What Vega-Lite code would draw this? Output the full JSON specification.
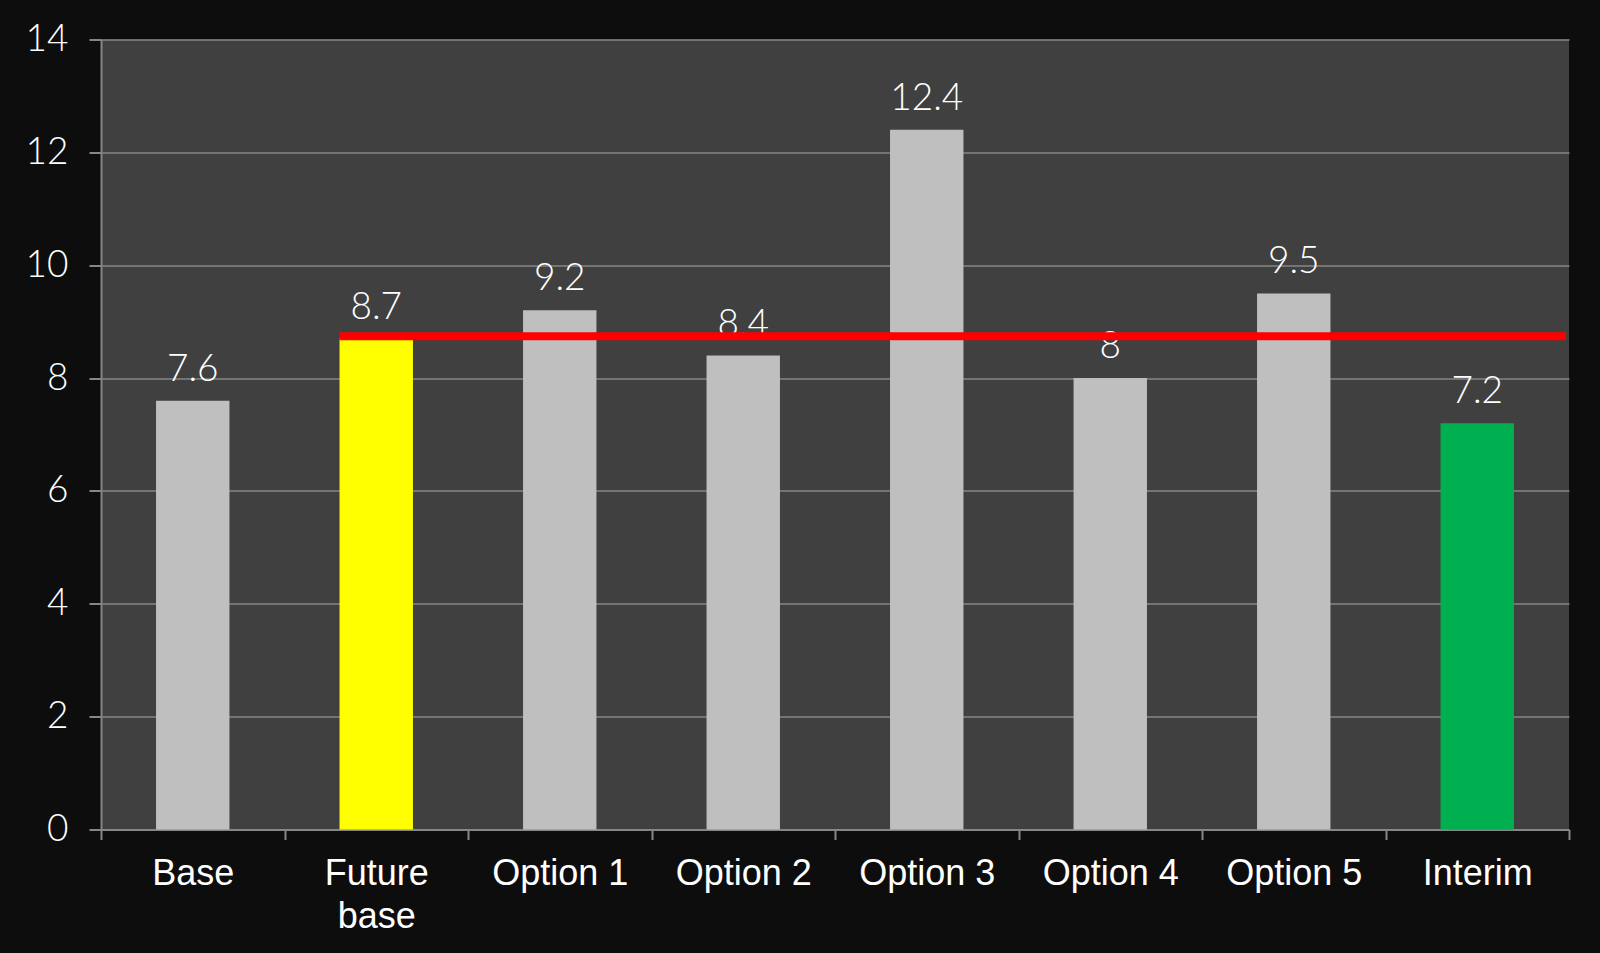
{
  "$schema": "https://vega.github.io/schema/vega-lite/v6.json",
  "autosize": "none",
  "width": 1468,
  "height": 790,
  "padding": {"left": 101, "top": 39.5, "right": 31, "bottom": 123.5},
  "background": "#0d0d0d",
  "config": {
    "view": {"fill": "#404040", "stroke": null}
  },
  "datasets": {
    "bars": [
      {"cat": "Base", "value": 7.6, "label": "7.6", "kind": "other"},
      {"cat": "Future base", "value": 8.7, "label": "8.7", "kind": "future"},
      {"cat": "Option 1", "value": 9.2, "label": "9.2", "kind": "other"},
      {"cat": "Option 2", "value": 8.4, "label": "8.4", "kind": "other"},
      {"cat": "Option 3", "value": 12.4, "label": "12.4", "kind": "other"},
      {"cat": "Option 4", "value": 8, "label": "8", "kind": "other"},
      {"cat": "Option 5", "value": 9.5, "label": "9.5", "kind": "other"},
      {"cat": "Interim", "value": 7.2, "label": "7.2", "kind": "interim"}
    ],
    "threshold": [
      {"start": "Future base", "end": "Interim", "level": 8.74}
    ]
  },
  "layer": [
    {
      "data": {"name": "bars"},
      "mark": {"type": "bar", "width": {"band": 0.4}},
      "encoding": {
        "x": {
          "field": "cat",
          "type": "nominal",
          "sort": null,
          "scale": {
            "domain": ["Base", "Future base", "Option 1", "Option 2", "Option 3", "Option 4", "Option 5", "Interim"],
            "paddingInner": 0,
            "paddingOuter": 0
          },
          "axis": {
            "title": null,
            "labelAngle": 0,
            "labelFont": "Liberation Sans",
            "labelFontSize": 36,
            "labelColor": "#ffffff",
            "labelPadding": 17,
            "labelLineHeight": 43,
            "labelExpr": "datum.label == 'Future base' ? ['Future', 'base'] : datum.label",
            "tickBand": "extent",
            "tickSize": 10,
            "tickColor": "#868686",
            "tickWidth": 2,
            "domainColor": "#868686",
            "domainWidth": 2,
            "grid": false
          }
        },
        "y": {
          "field": "value",
          "type": "quantitative",
          "scale": {"domain": [0, 14], "nice": false, "zero": true},
          "axis": {
            "title": null,
            "values": [0, 2, 4, 6, 8, 10, 12, 14],
            "format": "d",
            "labelFont": "Lato",
            "labelFontWeight": 300,
            "labelFontSize": 37,
            "labelColor": "#ffffff",
            "labelPadding": 21,
            "tickSize": 12,
            "tickColor": "#868686",
            "tickWidth": 2,
            "domainColor": "#868686",
            "domainWidth": 2,
            "grid": true,
            "gridColor": "#868686",
            "gridWidth": 1.5
          }
        },
        "color": {
          "field": "kind",
          "type": "nominal",
          "scale": {"domain": ["other", "future", "interim"], "range": ["#bfbfbf", "#ffff00", "#00b050"]},
          "legend": null
        }
      }
    },
    {
      "data": {"name": "bars"},
      "mark": {
        "type": "text",
        "baseline": "alphabetic",
        "align": "center",
        "dy": -20,
        "font": "Lato",
        "fontWeight": 300,
        "fontSize": 37,
        "color": "#ffffff"
      },
      "encoding": {
        "x": {"field": "cat", "type": "nominal", "sort": null},
        "y": {"field": "value", "type": "quantitative"},
        "text": {"field": "label", "type": "nominal"}
      }
    },
    {
      "data": {"name": "threshold"},
      "mark": {"type": "rule", "color": "#ff0000", "strokeWidth": 8, "strokeCap": "butt"},
      "encoding": {
        "x": {"field": "start", "type": "nominal", "sort": null, "bandPosition": 0.3},
        "x2": {"field": "end", "bandPosition": 0.984},
        "y": {"field": "level", "type": "quantitative"}
      }
    }
  ]
}
